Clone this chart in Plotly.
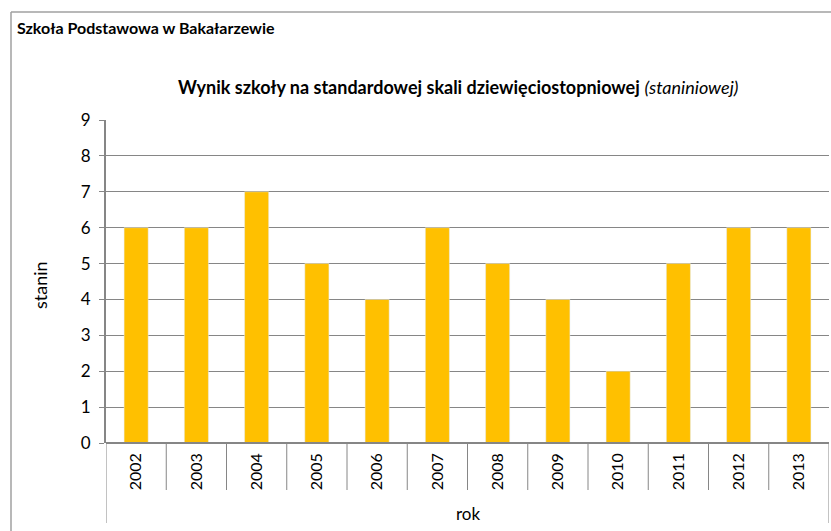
import plotly.graph_objects as go

years = ["2002", "2003", "2004", "2005", "2006", "2007", "2008", "2009", "2010", "2011", "2012", "2013"]
stanin = [6, 6, 7, 5, 4, 6, 5, 4, 2, 5, 6, 6]
y_ticks = [0, 1, 2, 3, 4, 5, 6, 7, 8, 9]

W, H = 831, 531
L, R, T, B = 106, 2, 120, 88
pw, ph = W - L - R, H - T - B

FONT = "Lato, Carlito, Calibri, sans-serif"
GRAY = "#868686"

xs = list(range(len(years)))

fig = go.Figure(go.Bar(x=xs, y=stanin, marker_color="#FFC000", width=0.4, showlegend=False))

def px_x(p):
    return (p - L) / pw

def px_y(p):
    return (H - B - p) / ph

shapes = []
for k in range(1, len(years)):
    shapes.append(dict(type="line", xref="x", yref="paper", x0=k - 0.5, x1=k - 0.5,
                       y0=0, y1=px_y(490), line=dict(color=GRAY, width=1)))
for xv in (-0.5, len(years) - 0.5):
    shapes.append(dict(type="line", xref="x", yref="paper", x0=xv, x1=xv,
                       y0=0, y1=px_y(523), line=dict(color=GRAY, width=1)))
shapes.append(dict(type="line", xref="paper", yref="paper", x0=px_x(11), x1=px_x(11),
                   y0=px_y(12), y1=px_y(H + 5), line=dict(color="#A0A0A0", width=1.5)))
shapes.append(dict(type="line", xref="paper", yref="paper", x0=px_x(11), x1=px_x(W + 5),
                   y0=px_y(12), y1=px_y(12), line=dict(color="#A0A0A0", width=1.5)))
shapes.append(dict(type="line", xref="paper", yref="paper", x0=0, x1=1, y0=0, y1=0,
                   line=dict(color=GRAY, width=2)))

annotations = [
    dict(text="<b>Szkoła Podstawowa w Bakałarzewie</b>", xref="paper", yref="paper",
         x=px_x(15), y=px_y(27), xanchor="left", yanchor="middle", showarrow=False,
         font=dict(family=FONT, size=16, color="#000")),
    dict(text="<b>Wynik szkoły na standardowej skali dziewięciostopniowej</b> <i>(staniniowej)</i>",
         xref="paper", yref="paper", x=px_x(458), y=px_y(87), xanchor="center", yanchor="middle",
         showarrow=False, font=dict(family=FONT, size=18, color="#000")),
    dict(text="rok", xref="paper", yref="paper", x=px_x(468), y=px_y(513),
         xanchor="center", yanchor="middle", showarrow=False,
         font=dict(family=FONT, size=17, color="#000")),
    dict(text="stanin", xref="paper", yref="paper", x=px_x(40), y=px_y(285),
         xanchor="center", yanchor="middle", showarrow=False, textangle=-90,
         font=dict(family=FONT, size=18, color="#000")),
]

fig.update_layout(
    width=W, height=H,
    margin=dict(l=L, r=R, t=T, b=B, pad=0),
    paper_bgcolor="white", plot_bgcolor="white",
    font=dict(family=FONT, size=16, color="#000"),
    xaxis=dict(tickmode="array", tickvals=xs, ticktext=years, tickangle=-90,
               range=[-0.5, len(years) - 0.5], showgrid=False, zeroline=False,
               showline=False, ticks="", tickfont=dict(size=16), ticklabelstandoff=6),
    yaxis=dict(tickmode="array", tickvals=y_ticks, range=[0, 9], showgrid=True,
               gridcolor=GRAY, gridwidth=1, zeroline=False, showline=True,
               linecolor=GRAY, linewidth=2, ticks="outside", ticklen=5, tickcolor=GRAY,
               tickfont=dict(size=17), ticklabelstandoff=5),
    shapes=shapes, annotations=annotations, bargap=0.6,
)

fig.write_html("out.html", config={"displayModeBar": False},
               post_script="document.body.style.margin='0';document.body.style.overflow='hidden';")
